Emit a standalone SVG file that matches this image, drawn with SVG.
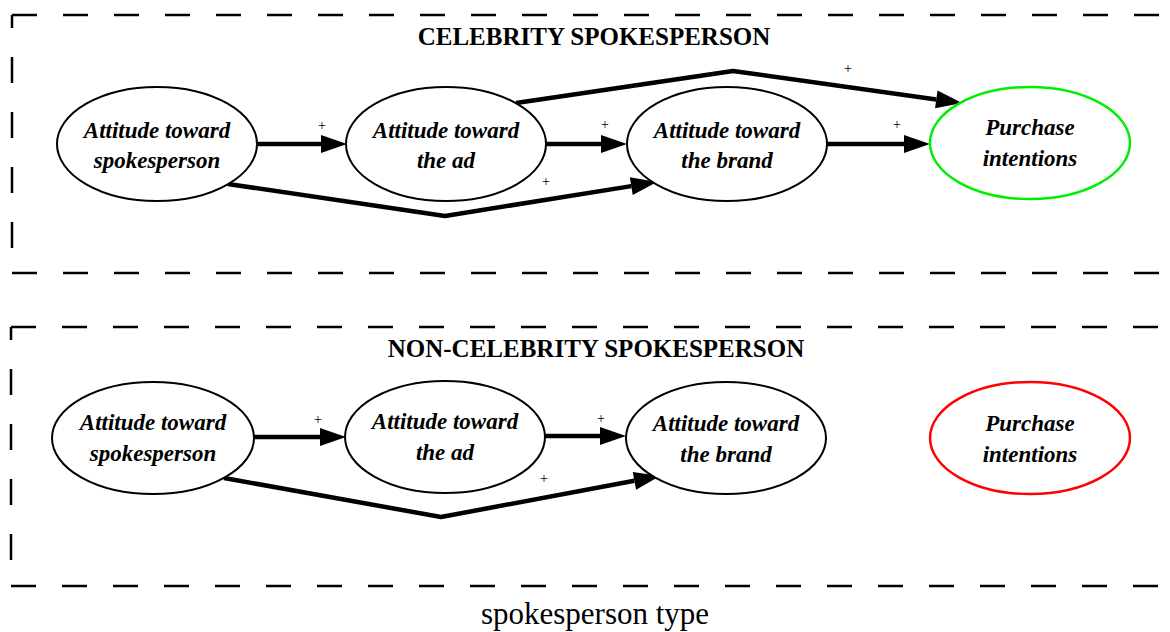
<svg xmlns="http://www.w3.org/2000/svg" width="1170" height="632" viewBox="0 0 1170 632">
<style>
.cl{fill:none;stroke:#000;stroke-width:2.5;stroke-dasharray:25 26}
.clv{fill:none;stroke:#000;stroke-width:2.5;stroke-dasharray:26 29;stroke-dashoffset:13}
.nd{fill:#fff;stroke:#000;stroke-width:2}
.lbl{font-family:"Liberation Serif",serif;font-weight:bold;font-style:italic;font-size:23px;text-anchor:middle;fill:#000}
.ttl{font-family:"Liberation Serif",serif;font-weight:bold;font-size:25px;text-anchor:middle;fill:#000}
.cap{font-family:"Liberation Serif",serif;font-size:31px;text-anchor:middle;fill:#000}
.pl{font-family:"Liberation Serif",serif;font-size:14px;text-anchor:middle;fill:#000}
.e{fill:none;stroke:#000;stroke-width:4.5;stroke-linejoin:round;marker-end:url(#ah)}
</style>
<defs>
<marker id="ah" markerUnits="userSpaceOnUse" markerWidth="27" markerHeight="19" refX="0" refY="9" orient="auto" overflow="visible">
<path d="M0,0 L26,9 L0,18 Z" fill="#000"/>
</marker>
</defs>
<rect width="1170" height="632" fill="#fff"/>
<g id="cluster-celebrity">
<path class="cl" d="M12,15 L1170,15"/>
<path class="clv" d="M12,15 L12,250"/>
<path class="cl" d="M12,273 L1170,273"/>
<text class="ttl" x="594" y="45">CELEBRITY SPOKESPERSON</text>
</g>
<g id="cluster-noncelebrity">
<path class="cl" d="M11,327 L1170,327"/>
<path class="clv" d="M11,327 L11,561"/>
<path class="cl" d="M11,586 L1170,586"/>
<text class="ttl" x="596" y="357">NON-CELEBRITY SPOKESPERSON</text>
</g>
<g id="edges">
<path class="e" d="M257,144 L321,144"/>
<path class="e" d="M546,144 L601,144"/>
<path class="e" d="M827,144 L904,144"/>
<path class="e" d="M228,184 L445,216 L631.3,186.1"/>
<path class="e" d="M516,103 L733,71 L936.3,99.4"/>
<path class="e" d="M253,437 L320,437"/>
<path class="e" d="M545,436 L600,436"/>
<path class="e" d="M224,478 L441,517 L634.4,480.8"/>
<text class="pl" x="322" y="130">+</text>
<text class="pl" x="605" y="129">+</text>
<text class="pl" x="897" y="129">+</text>
<text class="pl" x="546" y="186">+</text>
<text class="pl" x="848" y="73">+</text>
<text class="pl" x="318" y="424">+</text>
<text class="pl" x="601" y="423">+</text>
<text class="pl" x="544" y="483">+</text>
</g>
<g id="c-spokesperson">
<ellipse class="nd" cx="157" cy="144" rx="100" ry="57"/>
<text class="lbl" x="157" y="138">Attitude toward</text>
<text class="lbl" x="157" y="168">spokesperson</text>
</g>
<g id="c-ad">
<ellipse class="nd" cx="446" cy="144" rx="100" ry="57"/>
<text class="lbl" x="446" y="138">Attitude toward</text>
<text class="lbl" x="446" y="168">the ad</text>
</g>
<g id="c-brand">
<ellipse class="nd" cx="727" cy="144" rx="100" ry="57"/>
<text class="lbl" x="727" y="138">Attitude toward</text>
<text class="lbl" x="727" y="168">the brand</text>
</g>
<g id="c-purchase">
<ellipse class="nd" cx="1030" cy="143" rx="100" ry="56" style="stroke:#00ee00;stroke-width:2.5"/>
<text class="lbl" x="1030" y="135">Purchase</text>
<text class="lbl" x="1030" y="166">intentions</text>
</g>
<g id="n-spokesperson">
<ellipse class="nd" cx="153" cy="438" rx="101" ry="56"/>
<text class="lbl" x="153" y="430">Attitude toward</text>
<text class="lbl" x="153" y="461">spokesperson</text>
</g>
<g id="n-ad">
<ellipse class="nd" cx="445" cy="437" rx="100" ry="56"/>
<text class="lbl" x="445" y="429">Attitude toward</text>
<text class="lbl" x="445" y="460">the ad</text>
</g>
<g id="n-brand">
<ellipse class="nd" cx="726" cy="438" rx="100" ry="56"/>
<text class="lbl" x="726" y="431">Attitude toward</text>
<text class="lbl" x="726" y="462">the brand</text>
</g>
<g id="n-purchase">
<ellipse class="nd" cx="1030" cy="438" rx="100" ry="56" style="stroke:#ff0000;stroke-width:2.5"/>
<text class="lbl" x="1030" y="431">Purchase</text>
<text class="lbl" x="1030" y="462">intentions</text>
</g>
<text class="cap" x="595" y="624">spokesperson type</text>
</svg>
